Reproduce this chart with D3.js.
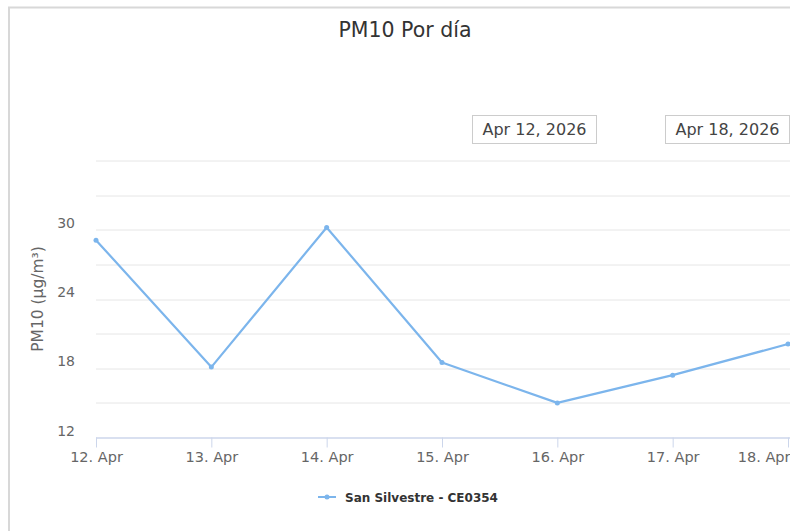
<!DOCTYPE html>
<html>
<head>
<meta charset="utf-8">
<script src="https://cdn.jsdelivr.net/npm/d3@7"></script>
<style>
    body { margin: 0; background: #fff; }
    svg { display: block; }
</style>
</head>
<body>
<div id="chart"></div>
<script>
// data
const days = ['2026-04-12', '2026-04-13', '2026-04-14', '2026-04-15', '2026-04-16', '2026-04-17', '2026-04-18'];
const pm10 = [29.1, 18.1, 30.2, 18.5, 15.0, 17.4, 20.1];
const yTicks = [12, 15, 18, 21, 24, 27, 30, 33, 36];
const yLabels = [12, 18, 24, 30];
const rangeLabels = ['Apr 12, 2026', 'Apr 18, 2026'];
const seriesName = 'San Silvestre - CE0354';
const chartTitle = 'PM10 Por día';
const yTitle = 'PM10 (µg/m³)';

const width = 790, height = 531;
const margin = { top: 160.5, right: 2, bottom: 93.5, left: 96 };
const plotW = width - margin.left - margin.right;
const plotH = height - margin.top - margin.bottom;
const color = '#7cb5ec';
const font = '"DejaVu Sans", sans-serif';

const parse = d3.timeParse('%Y-%m-%d');
const data = days.map((d, i) => ({ date: parse(d), value: pm10[i] }));

const svg = d3.select('#chart').append('svg')
    .attr('width', width)
    .attr('height', height);

// container frame
svg.append('rect')
    .attr('x', 9).attr('y', 7.5)
    .attr('width', width + 10).attr('height', height)
    .attr('fill', '#fff')
    .attr('stroke', '#d8d8d8')
    .attr('stroke-width', 2);

svg.append('text')
    .attr('x', 405).attr('y', 37)
    .attr('text-anchor', 'middle')
    .style('font-family', font)
    .style('font-size', '20.5px')
    .style('fill', '#333')
    .text(chartTitle);

// range selector boxes
const boxX = [472.5, 665.5];
rangeLabels.forEach((t, i) => {
    svg.append('rect')
        .attr('x', boxX[i]).attr('y', 115.5)
        .attr('width', 124).attr('height', 28)
        .attr('fill', '#fff')
        .attr('stroke', '#ccc');
    svg.append('text')
        .attr('x', boxX[i] + 62).attr('y', 134.5)
        .attr('text-anchor', 'middle')
        .style('font-family', font)
        .style('font-size', '16px')
        .style('fill', '#444')
        .text(t);
});

const g = svg.append('g')
    .attr('transform', `translate(${margin.left},${margin.top})`);

const x = d3.scaleTime()
    .domain(d3.extent(data, d => d.date))
    .range([0, plotW]);

const y = d3.scaleLinear()
    .domain([12, 36])
    .range([plotH, 0]);

// gridlines
g.append('g')
    .selectAll('line')
    .data(yTicks.filter(v => v !== 12))
    .enter()
    .append('line')
    .attr('x1', 0).attr('x2', plotW + 10)
    .attr('y1', d => Math.round(y(d)) + 0.5)
    .attr('y2', d => Math.round(y(d)) + 0.5)
    .attr('stroke', '#e6e6e6');

// y labels
g.append('g')
    .selectAll('text')
    .data(yLabels)
    .enter()
    .append('text')
    .attr('x', -21)
    .attr('y', d => y(d) - 2)
    .attr('text-anchor', 'end')
    .style('font-family', font)
    .style('font-size', '14px')
    .style('fill', '#666')
    .text(d => d);

svg.append('text')
    .attr('transform', `translate(43,${margin.top + plotH / 2}) rotate(-90)`)
    .attr('text-anchor', 'middle')
    .style('font-family', font)
    .style('font-size', '15.5px')
    .style('fill', '#666')
    .text(yTitle);

// x axis
const xAxis = g.append('g')
    .attr('transform', `translate(0,${plotH})`)
    .call(d3.axisBottom(x)
        .ticks(d3.timeDay.every(1))
        .tickSize(10)
        .tickFormat(d3.timeFormat('%-d. %b')));
xAxis.select('.domain').attr('stroke', '#ccd6eb').attr('stroke-width', 1.5)
    .attr('d', `M0,0.5H${plotW + 10}`);
xAxis.selectAll('.tick line').attr('stroke', '#ccd6eb');
xAxis.selectAll('.tick text')
    .attr('y', 14)
    .style('font-family', font)
    .style('font-size', '14.5px')
    .style('fill', '#666');
xAxis.selectAll('.tick').filter((d, i, n) => i === n.length - 1)
    .select('text').attr('text-anchor', 'end').attr('x', 2);

// series
const line = d3.line()
    .x(d => x(d.date))
    .y(d => y(d.value));

g.append('path')
    .datum(data)
    .attr('fill', 'none')
    .attr('stroke', color)
    .attr('stroke-width', 2.2)
    .attr('stroke-linejoin', 'round')
    .attr('d', line);

g.selectAll('.dot')
    .data(data)
    .enter()
    .append('circle')
    .attr('class', 'dot')
    .attr('r', 2.5)
    .attr('cx', d => x(d.date))
    .attr('cy', d => y(d.value))
    .attr('fill', color);

// legend
const lg = svg.append('g').attr('transform', 'translate(318,497)');
lg.append('line')
    .attr('x1', 0).attr('x2', 18)
    .attr('stroke', color).attr('stroke-width', 2);
lg.append('circle').attr('cx', 9).attr('r', 2.5).attr('fill', color);
lg.append('text')
    .attr('x', 27).attr('y', 5)
    .style('font-family', font)
    .style('font-size', '12px')
    .style('font-weight', 'bold')
    .style('fill', '#333')
    .text(seriesName);
</script>
</body>
</html>
